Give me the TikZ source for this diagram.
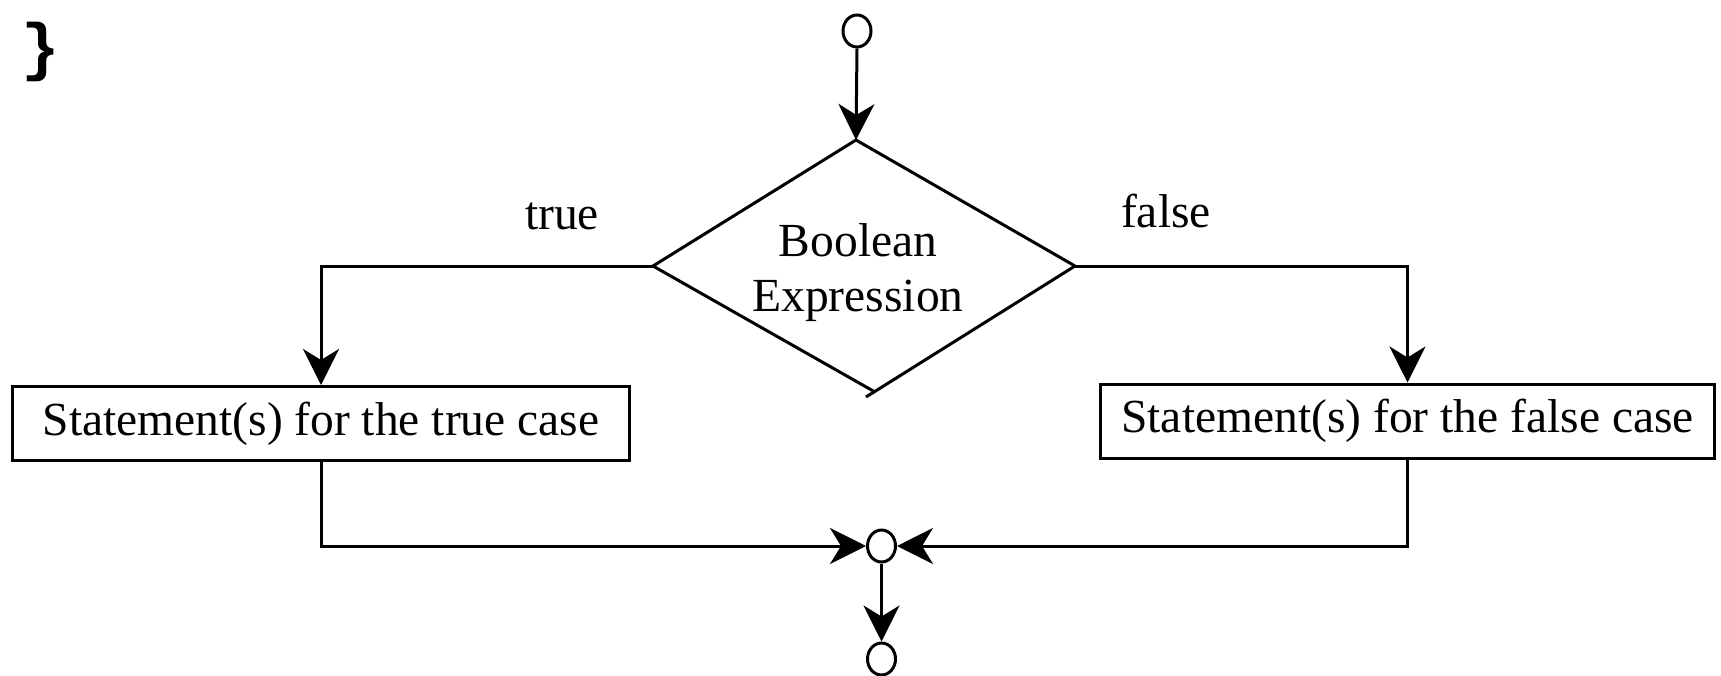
\documentclass[tikz,border=0pt]{standalone}
\usepackage{fontspec}
\setmainfont{Liberation Serif}
\newfontfamily\bracefont{Liberation Mono}
\usetikzlibrary{arrows.meta,shapes.geometric}

\tikzset{
  flow/.style={line width=3pt, line join=miter},
  arr/.style={flow, -{Stealth[length=36pt, width=36pt, inset=11pt]}},
  pt/.style={ellipse, draw, line width=3pt, inner sep=0pt,
             minimum width=28pt, minimum height=32pt},
  stmt/.style={rectangle, draw, line width=3pt, inner sep=0pt,
               minimum height=74pt, font=\fontsize{47.5}{55}\selectfont},
  lbl/.style={anchor=base, inner sep=0pt, font=\fontsize{47.5}{55}\selectfont}
}

\begin{document}
\begin{tikzpicture}[x=1pt, y=-1pt]
  \useasboundingbox (0,0) rectangle (1721,675);

  % closing brace of the enclosing block
  \node[anchor=center, inner sep=0pt, font=\bracefont\bfseries\fontsize{64}{64}\selectfont]
    (brace) at (41,52) {\}};

  % start point
  \node[pt] (start) at (857,31) {};

  % decision
  \coordinate (dT) at (856,140);
  \coordinate (dL) at (653,266);
  \coordinate (dR) at (1075,266);
  \coordinate (dB) at (875,392);
  \coordinate (dX) at (866,397);
  \draw[flow] (dR) -- (dT) -- (dL) -- (dB);
  \draw[flow] (dR) -- (dX);
  \node[lbl] (cond1) at (858,256) {Boolean};
  \node[lbl] (cond2) at (858,311) {Expression};

  % branch labels
  \node[lbl] (ltrue) at (562,229) {true};
  \node[lbl] (lfalse) at (1166,227) {false};

  % statement boxes
  \node[stmt, minimum width=617pt] (tbox) at (321,423.5) {Statement(s) for the true case};
  \node[stmt, minimum width=614pt] (fbox) at (1407.5,421) {Statement(s) for the false case};

  % join and end points
  \node[pt, minimum height=32pt] (join) at (881.5,546) {};
  \node[pt] (stop) at (881.5,659) {};

  % connectors
  \draw[arr] (start.south) -- (dT);
  \draw[arr] (dL) -| (tbox.north);
  \draw[arr] (dR) -| (fbox.north);
  \draw[arr] (tbox.south) |- (join.west);
  \draw[arr] (fbox.south) |- (join.east);
  \draw[arr] (join.south) -- (stop.north);
\end{tikzpicture}
\end{document}
